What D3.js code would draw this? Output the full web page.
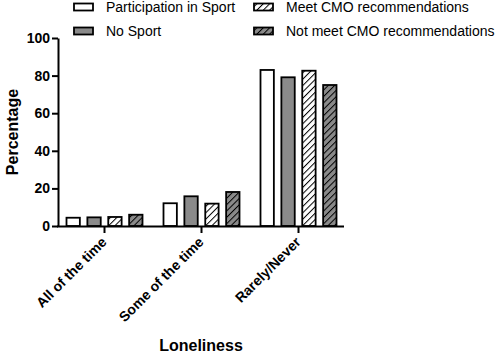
<!DOCTYPE html>
<html>
<head>
<meta charset="utf-8">
<script src="https://cdn.jsdelivr.net/npm/d3@7"></script>
<style>
	body { margin: 0; background: #fff; }
	text { font-family: Arial, "Liberation Sans", sans-serif; fill: #000; }
</style>
</head>
<body>
<div id="chart"></div>
<script>
// Data
let categories = ['All of the time', 'Some of the time', 'Rarely/Never'];
let seriesNames = ['Participation in Sport', 'No Sport', 'Meet CMO recommendations', 'Not meet CMO recommendations'];
let participation = [4.4, 12.1, 83.0];
let noSport = [4.6, 15.8, 79.1];
let meetCMO = [4.8, 11.9, 82.6];
let notMeetCMO = [6.0, 18.1, 75.0];
let yTicks = [0, 20, 40, 60, 80, 100];

let values = [participation, noSport, meetCMO, notMeetCMO];
let fills = ['#ffffff', '#8a8a8a', 'url(#hatchWhite)', 'url(#hatchGrey)'];

let width = 500;
let height = 356;

let svg = d3.select('#chart').append('svg')
		.attr('width', width)
		.attr('height', height);

// Hatch patterns
let defs = svg.append('defs');
function makeHatch(id, bg) {
	let p = defs.append('pattern')
			.attr('id', id)
			.attr('patternUnits', 'userSpaceOnUse')
			.attr('width', 4.5)
			.attr('height', 4.5)
			.attr('patternTransform', 'rotate(45)');
	p.append('rect').attr('width', 4.5).attr('height', 4.5).attr('fill', bg);
	p.append('line')
			.attr('x1', 0).attr('y1', 0).attr('x2', 0).attr('y2', 4.5)
			.attr('stroke', '#000').attr('stroke-width', 2);
}
makeHatch('hatchWhite', '#ffffff');
makeHatch('hatchGrey', '#8a8a8a');

// Scales
let x = d3.scaleBand().domain(categories).range([56, 347]);
let xInner = d3.scaleBand().domain(d3.range(4)).range([-38, 38]).paddingInner(0.36);
let y = d3.scaleLinear().domain([0, 100]).range([226, 38]);

// Bars
let groups = svg.append('g').selectAll('g').data(categories).enter().append('g')
		.attr('transform', d => `translate(${x(d) + x.bandwidth() / 2}, 0)`);

groups.selectAll('rect').data((c, i) => values.map((v, s) => ({s: s, v: v[i]}))).enter().append('rect')
		.attr('x', d => xInner(d.s))
		.attr('width', xInner.bandwidth())
		.attr('y', d => y(d.v))
		.attr('height', d => y(0) - y(d.v))
		.attr('fill', d => fills[d.s])
		.attr('stroke', '#000')
		.attr('stroke-width', 1.8);

// Y axis
let yAxis = svg.append('g')
		.attr('transform', 'translate(58, 0)')
		.call(d3.axisLeft(y).tickValues(yTicks).tickSize(6).tickPadding(2).tickSizeOuter(0));
yAxis.selectAll('line, path').attr('stroke', '#000').attr('stroke-width', 2);
yAxis.selectAll('text')
		.style('font-size', '14px')
		.style('font-weight', 'bold')
		.style('font-family', 'Arial, "Liberation Sans", sans-serif');

// X axis
let xAxis = svg.append('g')
		.attr('transform', 'translate(0, 226)')
		.call(d3.axisBottom(x).tickSize(7).tickSizeOuter(0).tickFormat(''));
xAxis.select('.domain').attr('d', 'M57,0.5H344');
xAxis.selectAll('line, path').attr('stroke', '#000').attr('stroke-width', 2);

svg.append('g').selectAll('text').data(categories).enter().append('text')
		.attr('transform', d => `translate(${x(d) + x.bandwidth() / 2 + 3}, 243) rotate(-45)`)
		.attr('text-anchor', 'end')
		.style('font-size', '14px')
		.style('font-weight', 'bold')
		.text(d => d);

// Axis titles
svg.append('text')
		.attr('transform', 'translate(18, 132) rotate(-90)')
		.attr('text-anchor', 'middle')
		.style('font-size', '16px')
		.style('font-weight', 'bold')
		.text('Percentage');

svg.append('text')
		.attr('x', 201)
		.attr('y', 351)
		.attr('text-anchor', 'middle')
		.style('font-size', '16px')
		.style('font-weight', 'bold')
		.text('Loneliness');

// Legend
let legendPos = [[73, 7], [73, 31], [253, 7], [253, 31]];
let legend = svg.append('g').selectAll('g').data(seriesNames).enter().append('g')
		.attr('transform', (d, i) => `translate(${legendPos[i][0]}, ${legendPos[i][1]})`);
legend.append('rect')
		.attr('x', 1)
		.attr('y', -3.5)
		.attr('width', 19)
		.attr('height', 7)
		.attr('fill', (d, i) => fills[i])
		.attr('stroke', '#000')
		.attr('stroke-width', 1.8);
legend.append('text')
		.attr('x', 33)
		.attr('y', 5)
		.style('font-size', '14px')
		.text(d => d);
</script>
</body>
</html>
